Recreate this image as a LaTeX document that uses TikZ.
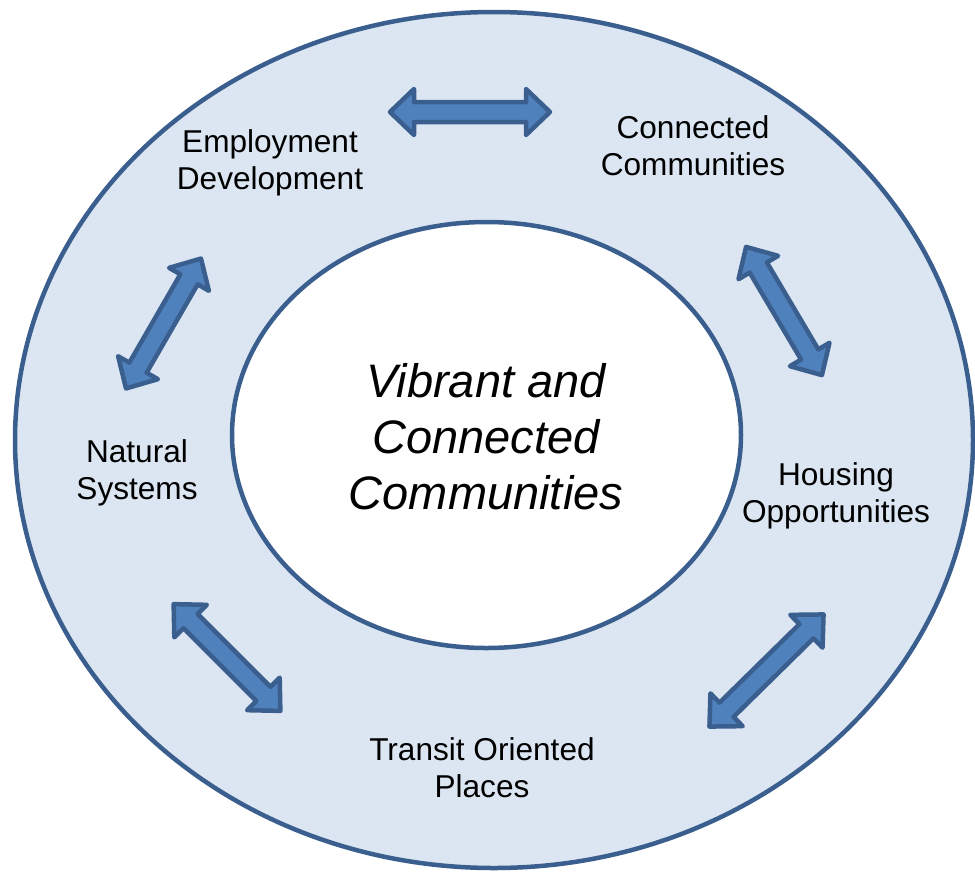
\documentclass[tikz,border=0pt]{standalone}
\usepackage{fontspec}
\setmainfont{Liberation Sans}
\usetikzlibrary{shapes.geometric}
\definecolor{ringfill}{HTML}{DCE6F2}
\definecolor{ringline}{HTML}{3A5F8E}
\definecolor{arrowfill}{HTML}{4F81BD}
\tikzset{
  ring/.style={draw=ringline, line width=4.5pt},
  label/.style={align=center, inner sep=0pt, font=\fontsize{31.6}{37}\selectfont},
  centertext/.style={align=center, inner sep=0pt, font=\fontsize{47}{56}\selectfont\itshape},
  blockarrow/.style={draw=ringline, fill=arrowfill, line width=4.5pt, line join=round}
}
% #1 = centre, #2 = angle, #3 = half length (outline centre)
\newcommand\dblarrow[3]{%
  \begin{scope}[shift={#1}, rotate=#2]
    \draw[blockarrow] (-#3,0) -- (-#3+24,23) -- (-#3+24,10) -- (#3-24,10) -- (#3-24,23)
      -- (#3,0) -- (#3-24,-23) -- (#3-24,-10) -- (-#3+24,-10) -- (-#3+24,-23) -- cycle;
  \end{scope}}
\begin{document}
\begin{tikzpicture}[x=1pt, y=-1pt]
\useasboundingbox (0,0) rectangle (975,871);
\fill[white] (0,0) rectangle (975,871);
\node[ring, fill=ringfill, ellipse, minimum width=958pt, minimum height=856pt, inner sep=0pt] (outer) at (494,440) {};
\node[ring, fill=white, ellipse, minimum width=509pt, minimum height=426pt, inner sep=0pt] (inner) at (486.5,435) {};
\node[centertext] (core) at (486,437) {Vibrant and\\Connected\\Communities};
\node[label] (emp) at (270,163) {Employment\\Development};
\node[label] (con) at (693,146) {Connected\\Communities};
\node[label] (nat) at (137,473) {Natural\\Systems};
\node[label] (hou) at (836,496) {Housing\\Opportunities};
\node[label] (tra) at (482,768) {Transit Oriented\\Places};
\dblarrow{(470,112)}{0}{80}
\dblarrow{(163.5,323.5)}{60}{75}
\dblarrow{(784,311)}{-59.4}{74.5}
\dblarrow{(227,657.5)}{-45}{75.5}
\dblarrow{(766.5,670.5)}{44.5}{80}
\end{tikzpicture}
\end{document}
